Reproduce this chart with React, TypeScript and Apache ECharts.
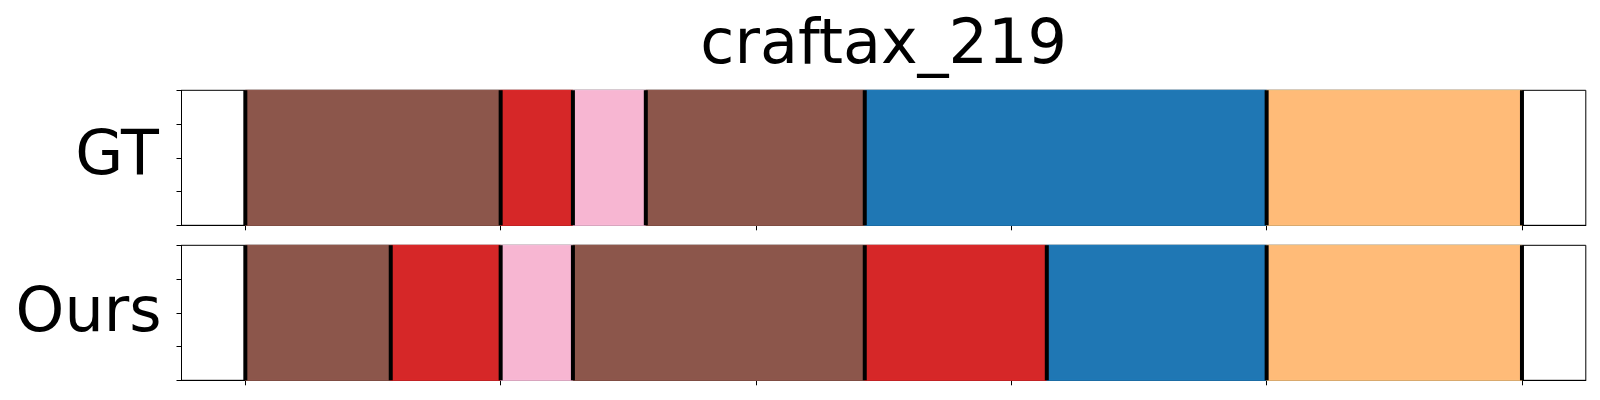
import React, { useEffect, useRef } from "react";
import * as echarts from "echarts";

// Chart title and row labels
const chartTitle = "craftax_219";
const rowLabels = ["GT", "Ours"];

// Segment boundaries (x units; ticks every 20 from 0 to 100) and segment colour keys
const gtBounds = [0, 20, 25.66, 31.37, 48.52, 80, 100];
const gtSegments = ["brown", "red", "pink", "brown", "blue", "orange"];
const oursBounds = [0, 11.39, 20, 25.66, 48.52, 62.78, 80, 100];
const oursSegments = ["brown", "red", "pink", "brown", "red", "blue", "orange"];

// x tick positions
const xTicks = [0, 20, 40, 60, 80, 100];

const palette: Record<string, string> = {
  brown: "#8c564b",
  red: "#d62728",
  pink: "#f7b6d2",
  blue: "#1f77b4",
  orange: "#ffbb78",
};

const FONT = "DejaVu Sans";

function segData(bounds: number[], keys: string[]) {
  return keys.map((k, i) => [bounds[i], bounds[i + 1], k]);
}

function segmentSeries(idx: number, bounds: number[], keys: string[]) {
  return {
    type: "custom",
    xAxisIndex: idx,
    yAxisIndex: idx,
    z: 2,
    encode: { x: [0, 1] },
    data: segData(bounds, keys),
    renderItem: (params: any, api: any) => {
      const s = api.value(0);
      const e = api.value(1);
      const key = keys[params.dataIndex];
      const p0 = api.coord([s, 1]);
      const p1 = api.coord([e, 0]);
      const c = palette[key];
      return {
        type: "rect",
        shape: { x: p0[0], y: p0[1], width: p1[0] - p0[0], height: p1[1] - p0[1] },
        style: { fill: c, stroke: echarts.color.lift(c, -0.08), lineWidth: 1 },
      };
    },
  };
}

function boundarySeries(idx: number, bounds: number[]) {
  return {
    type: "custom",
    xAxisIndex: idx,
    yAxisIndex: idx,
    z: 3,
    encode: { x: 0 },
    data: bounds.map((b) => [b]),
    renderItem: (params: any, api: any) => {
      const top = api.coord([api.value(0), 1]);
      const bot = api.coord([api.value(0), 0]);
      return {
        type: "rect",
        shape: { x: top[0] - 2, y: top[1], width: 4, height: bot[1] - top[1] },
        style: { fill: "#000" },
      };
    },
  };
}

export default function App() {
  const ref = useRef<HTMLDivElement>(null);
  useEffect(() => {
    if (!ref.current) return;
    const chart = echarts.init(ref.current, undefined, { renderer: "svg" });
    const gridLeft = 181.5;
    const gridWidth = 1404.3;
    const tops = [90.3, 245.3];
    const h = 135;
    const xAxisCfg = (i: number) => ({
      type: "value",
      gridIndex: i,
      position: "bottom",
      min: -5,
      max: 105,
      axisLine: { show: true, onZero: false, lineStyle: { color: "#000", width: 1 } },
      axisTick: { show: true, inside: false, length: 5, customValues: xTicks, lineStyle: { color: "#000", width: 1 } },
      axisLabel: { show: false },
      splitLine: { show: false },
    });
    const yAxisCfg = (i: number) => ({
      type: "value",
      gridIndex: i,
      position: "left",
      min: 0,
      max: 1,
      interval: 0.25,
      axisLine: { show: true, onZero: false, lineStyle: { color: "#000", width: 1 } },
      axisTick: { show: true, inside: false, length: 5, lineStyle: { color: "#000", width: 1 } },
      axisLabel: { show: false },
      splitLine: { show: false },
    });
    const centerX = gridLeft + gridWidth / 2;
    chart.setOption({
      animation: false,
      backgroundColor: "#fff",
      grid: tops.map((t) => ({
        left: gridLeft,
        top: t,
        width: gridWidth,
        height: h,
        show: true,
        borderColor: "#000",
        borderWidth: 1,
        backgroundColor: "transparent",
      })),
      xAxis: [xAxisCfg(0), xAxisCfg(1)],
      yAxis: [yAxisCfg(0), yAxisCfg(1)],
      series: [
        segmentSeries(0, gtBounds, gtSegments),
        boundarySeries(0, gtBounds),
        segmentSeries(1, oursBounds, oursSegments),
        boundarySeries(1, oursBounds),
      ],
      graphic: [
        {
          type: "text",
          x: centerX,
          y: 41.9,
          style: {
            text: chartTitle,
            font: `62px '${FONT}'`,
            fill: "#000",
            textAlign: "center",
            textVerticalAlign: "middle",
            align: "center",
            verticalAlign: "middle",
          },
        },
        {
          type: "text",
          x: 159,
          y: 152.8,
          style: {
            text: rowLabels[0],
            font: `62px '${FONT}'`,
            fill: "#000",
            textAlign: "right",
            textVerticalAlign: "middle",
            align: "right",
            verticalAlign: "middle",
          },
        },
        {
          type: "text",
          x: 161.5,
          y: 309.6,
          style: {
            text: rowLabels[1],
            font: `62px '${FONT}'`,
            fill: "#000",
            textAlign: "right",
            textVerticalAlign: "middle",
            align: "right",
            verticalAlign: "middle",
          },
        },
      ],
    });
    return () => chart.dispose();
  }, []);
  return (
    <div
      ref={ref}
      style={{ position: "fixed", left: 0, top: 0, width: 1600, height: 400 }}
    />
  );
}
